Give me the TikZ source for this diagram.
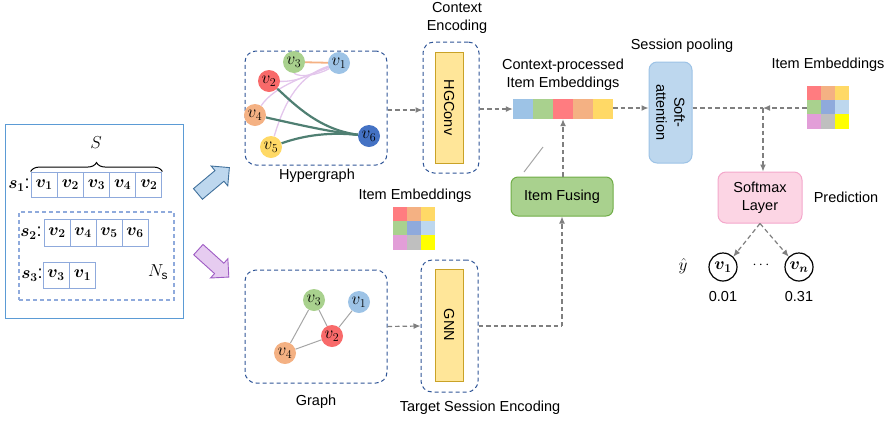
\documentclass[tikz,border=0pt]{standalone}
\usepackage{fontspec}
\setmainfont{Liberation Sans}
\usepackage{bm}
\usetikzlibrary{arrows.meta,shapes.arrows,calc,backgrounds,decorations.pathreplacing}
\definecolor{cblue}{HTML}{9DC3E6}
\definecolor{cgreen}{HTML}{A9D18E}
\definecolor{cred}{HTML}{FF7C80}
\definecolor{cnred}{HTML}{F86A6A}
\definecolor{corange}{HTML}{F4B183}
\definecolor{cyellow}{HTML}{FFD966}
\definecolor{cdblue}{HTML}{4472C4}
\definecolor{cmblue}{HTML}{8FAADC}
\definecolor{clblue}{HTML}{BDD7EE}
\definecolor{cpink}{HTML}{E29ED8}
\definecolor{cgray}{HTML}{BFBFBF}
\definecolor{cyel}{HTML}{FFFF00}
\definecolor{framec}{HTML}{2F5597}
\definecolor{panelc}{HTML}{5B9BD5}
\definecolor{cellc}{HTML}{8FAADC}
\definecolor{arrowg}{HTML}{7F7F7F}
\definecolor{smf}{HTML}{FCD5E4}
\definecolor{smd}{HTML}{F4A7CB}
\definecolor{fusef}{HTML}{A9D18E}
\definecolor{fused}{HTML}{70AD47}
\definecolor{convf}{HTML}{FFE699}
\definecolor{convd}{HTML}{C9A227}
\definecolor{tealc}{HTML}{4F7F72}
\definecolor{lilac}{HTML}{E3C6EC}
\definecolor{edgeg}{HTML}{A6A6A6}
\definecolor{barrowf}{HTML}{BDD7EE}
\definecolor{barrowd}{HTML}{41719C}
\definecolor{parrowf}{HTML}{E6CCF0}
\definecolor{parrowd}{HTML}{9E5CC4}
\tikzset{
  lbl/.style={font=\fontsize{14.5}{18}\selectfont, align=center, inner sep=0pt},
  vnode/.style={circle, minimum size=22pt, inner sep=0pt, font=\fontsize{18}{18}\selectfont},
  dbox/.style={draw=framec, dash pattern=on 4pt off 3pt, rounded corners=11pt, line width=1pt, inner sep=0pt},
  flow/.style={draw=arrowg, dash pattern=on 4.5pt off 3pt, line width=1.2pt, -{Latex[length=7pt,width=6pt]}},
  flowline/.style={draw=arrowg, dash pattern=on 4.5pt off 3pt, line width=1.2pt},
  cell/.style={draw=cellc, line width=0.9pt, minimum width=26pt, minimum height=25pt, inner sep=0pt, font=\fontsize{18}{18}\selectfont},
  emb/.style={minimum width=14pt, minimum height=14.3pt, inner sep=0pt},
  strip/.style={minimum width=20pt, minimum height=20pt, inner sep=0pt},
  convbar/.style={draw=convd, fill=convf, line width=0.9pt, minimum width=28pt, inner sep=0pt},
  predc/.style={circle, draw=black, line width=1.2pt, minimum size=28pt, inner sep=0pt, font=\fontsize{18}{18}\selectfont},
  blockarrow/.style={single arrow, line width=0.9pt, minimum height=41pt, minimum width=25pt, single arrow head extend=6pt, inner sep=6.5pt},
}
\begin{document}
\begin{tikzpicture}[x=1pt,y=-1pt]
\useasboundingbox (0,0) rectangle (889,424);

% ---------- left panel ----------
\node[draw=panelc, line width=1pt, minimum width=178pt, minimum height=194pt, inner sep=0pt] (panel) at (94,221) {};
\node[draw=cellc, dash pattern=on 4pt off 3pt, line width=1.1pt, minimum width=155pt, minimum height=88pt, inner sep=0pt] (nsbox) at (96.5,256) {};
\foreach \i/\t in {1/1,2/2,3/3,4/4,5/2}{
  \node[cell] (a\i) at ({31+13.1+26.2*(\i-1)},184.5) {$\bm{v}_{\bm{\t}}$};
}
\foreach \i/\t in {1/2,2/4,3/5,4/6}{
  \node[cell, minimum height=27pt] (b\i) at ({44+13+26*(\i-1)},232.5) {$\bm{v}_{\bm{\t}}$};
}
\foreach \i/\t in {1/3,2/1}{
  \node[cell, minimum height=26pt] (c\i) at ({43+13+26.5*(\i-1)},275) {$\bm{v}_{\bm{\t}}$};
}
\node[font=\fontsize{18}{18}\selectfont, inner sep=0pt] (s1) at (19,185) {$\bm{s}_{\bm{1}}$:};
\node[font=\fontsize{18}{18}\selectfont, inner sep=0pt] (s2) at (31,233) {$\bm{s}_{\bm{2}}$:};
\node[font=\fontsize{18}{18}\selectfont, inner sep=0pt] (s3) at (32,275) {$\bm{s}_{\bm{3}}$:};
\draw[decorate, decoration={brace, amplitude=9pt}, line width=1pt] (a1.north west) -- (a5.north east);
\node[font=\fontsize{17}{17}\selectfont] (Slbl) at (96,143) {$S$};
\node[font=\fontsize{17}{17}\selectfont] (Ns) at (158,272) {$N_{\mathrm{s}}$};

% block arrows
\node[blockarrow, draw=barrowd, fill=barrowf, rotate=40] (barrow) at (211,183) {};
\node[blockarrow, draw=parrowd, fill=parrowf, rotate=-42] (parrow) at (211,261) {};

% ---------- hypergraph ----------
\node[dbox, minimum width=142pt, minimum height=114pt] (hgbox) at (316,108) {};
\node[vnode, fill=cgreen] (hv3) at (294,62) {$v_3$};
\node[vnode, fill=cblue] (hv1) at (339,63) {$v_1$};
\node[vnode, fill=cnred] (hv2) at (269,81) {$v_2$};
\node[vnode, fill=corange] (hv4) at (255,115) {$v_4$};
\node[vnode, fill=cyellow] (hv5) at (271,147) {$v_5$};
\node[vnode, fill=cdblue] (hv6) at (369,136) {$v_6$};
\begin{scope}[on background layer]
  \draw[corange, line width=1.8pt] (hv3) -- (hv1);
  \draw[lilac, line width=1.3pt] (hv1) .. controls (315,72) and (300,82) .. (hv2);
  \draw[lilac, line width=1.3pt] (hv1) .. controls (318,75) and (300,78) .. (hv3.south);
  \draw[lilac, line width=1.3pt] (hv1) .. controls (310,75) and (275,85) .. (hv4);
  \draw[lilac, line width=1.3pt] (hv1) .. controls (300,75) and (285,100) .. (hv5);
  \draw[tealc, line width=2.2pt] (hv2) .. controls (295,105) and (320,130) .. (hv6);
  \draw[tealc, line width=2.2pt] (hv4) .. controls (300,125) and (330,132) .. (hv6);
  \draw[tealc, line width=2.2pt] (hv5) .. controls (305,135) and (330,132) .. (hv6);
\end{scope}
\node[lbl] (hglbl) at (317,176) {Hypergraph};

% ---------- graph ----------
\node[dbox, minimum width=142pt, minimum height=113pt] (gbox) at (316,326.5) {};
\node[vnode, fill=cgreen] (gv3) at (314,300) {$v_3$};
\node[vnode, fill=cblue] (gv1) at (359,302) {$v_1$};
\node[vnode, fill=cnred] (gv2) at (332,336) {$v_2$};
\node[vnode, fill=corange] (gv4) at (285,353) {$v_4$};
\begin{scope}[on background layer]
  \draw[edgeg, line width=1pt] (gv3) -- (gv2);
  \draw[edgeg, line width=1pt] (gv3) -- (gv4);
  \draw[edgeg, line width=1pt] (gv1) -- (gv2);
  \draw[edgeg, line width=1pt] (gv2) -- (gv4);
\end{scope}
\node[lbl] (glbl) at (316,402) {Graph};

% ---------- encoders ----------
\node[dbox, minimum width=56pt, minimum height=131pt] (hgcbox) at (451,107.5) {};
\node[convbar, minimum height=111pt] (hgconv) at (449,107.5) {};
\node[lbl, rotate=-90] (hgctext) at (449,107.5) {HGConv};
\node[lbl] (celbl) at (457,18) {Context\\Encoding};

\node[dbox, minimum width=57pt, minimum height=132pt] (gnnbox) at (449.5,326) {};
\node[convbar, minimum height=112pt] (gnn) at (449,325) {};
\node[lbl, rotate=-90] (gnntext) at (449,325) {GNN};
\node[lbl] (tselbl) at (480,408) {Target Session Encoding};

% middle item embeddings
\node[lbl] (ie1lbl) at (415,196) {Item Embeddings};
\foreach \r/\cA/\cB/\cC in {0/cred/corange/cyellow,1/cgreen/cmblue/clblue,2/cpink/cgray/cyel}{
  \node[emb, fill=\cA] (m\r a) at (400,{214+14.3*\r}) {};
  \node[emb, fill=\cB] (m\r b) at (414,{214+14.3*\r}) {};
  \node[emb, fill=\cC] (m\r c) at (428,{214+14.3*\r}) {};
}

% context-processed strip
\node[lbl] (cplbl) at (563,75) {Context-processed\\Item Embeddings};
\foreach \i/\c in {1/cblue,2/cgreen,3/cred,4/corange,5/cyellow}{
  \node[strip, fill=\c] (st\i) at ({523+20*(\i-1)},109) {};
}

% item fusing
\node[draw=fused, fill=fusef, line width=1pt, rounded corners=7pt, minimum width=102pt, minimum height=39pt, lbl] (fuse) at (562,196.5) {Item Fusing};
\coordinate (sa) at (524,172);
\coordinate (sb) at (543,147);
\draw[edgeg, line width=1pt] (sa) -- (sb);

% soft attention
\node[draw=cblue, fill=clblue, line width=1pt, rounded corners=8pt, minimum width=43pt, minimum height=101pt, inner sep=0pt] (att) at (670.5,112.5) {};
\node[lbl, rotate=-90] (atttext) at (670.5,112.5) {Soft-\\attention};
\node[lbl] (splbl) at (682,46) {Session pooling};

% right item embeddings
\node[lbl] (ie2lbl) at (828,65) {Item Embeddings};
\foreach \r/\cA/\cB/\cC in {0/cred/corange/cyellow,1/cgreen/cmblue/clblue,2/cpink/cgray/cyel}{
  \node[emb, fill=\cA] (e\r a) at (814,{93+14.3*\r}) {};
  \node[emb, fill=\cB] (e\r b) at (828,{93+14.3*\r}) {};
  \node[emb, fill=\cC] (e\r c) at (842,{93+14.3*\r}) {};
}

% softmax
\node[draw=smd, fill=smf, line width=1pt, rounded corners=8pt, minimum width=84pt, minimum height=51pt, lbl] (smax) at (760,197.5) {Softmax\\Layer};
\node[lbl] (predlbl) at (846,197) {Prediction};
\coordinate (jn) at (763,108);

% prediction
\node[predc] (p1) at (723,267) {$\bm{v}_{\bm{1}}$};
\node[predc] (pn) at (799,267) {$\bm{v}_{\bm{n}}$};
\node[font=\fontsize{14}{14}\selectfont] (dots) at (761,265) {$\cdots$};
\node[font=\fontsize{17}{17}\selectfont] (yhat) at (683,266) {$\hat{y}$};
\node[lbl] (p1v) at (723,297) {0.01};
\node[lbl] (pnv) at (799,297) {0.31};

% ---------- connectors ----------
\draw[flow] (hgbox.east |- 0,110) -- (hgcbox.west |- 0,110);
\draw[flow] (hgcbox.east |- st1.west) -- (st1.west);
\draw[flow] (st5.east |- 0,108) -- (att.west |- 0,108);
\draw[flowline] (att.east |- jn) -- (jn);
\draw[flow] (e1a.west |- jn) -- (jn);
\draw[flow] (jn) -- (jn |- smax.north);
\draw[flow] (fuse.north -| st3.south) -- (st3.south);
\draw[flow] (gbox.east) -- (gnnbox.west);
\draw[flowline] (gnnbox.east) -- (gnnbox.east -| fuse.south);
\draw[flow] (gnnbox.east -| fuse.south) -- (fuse.south);
\draw[flow] (smax.south) -- (p1.north east);
\draw[flow] (smax.south) -- (pn.north west);
\end{tikzpicture}
\end{document}
